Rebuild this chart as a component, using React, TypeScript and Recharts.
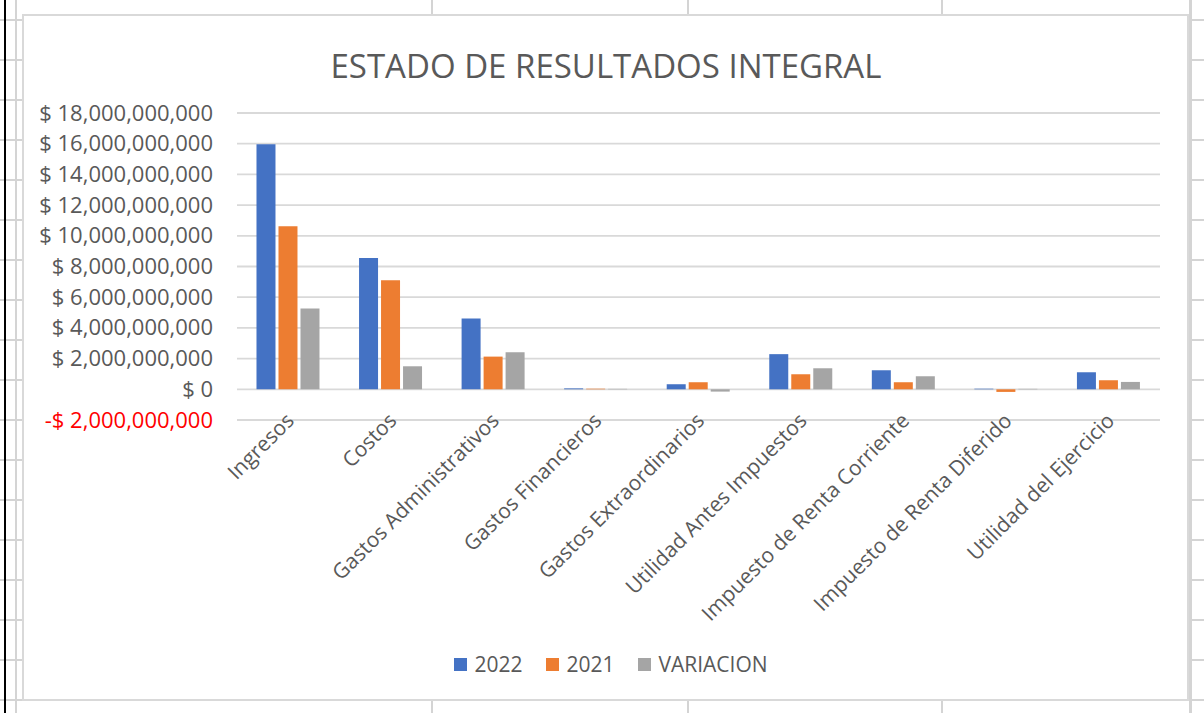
import React from "react";
import { BarChart, Bar, XAxis, YAxis, CartesianGrid, Legend } from "recharts";

const categories = [
  "Ingresos",
  "Costos",
  "Gastos Administrativos",
  "Gastos Financieros",
  "Gastos Extraordinarios",
  "Utilidad Antes Impuestos",
  "Impuesto de Renta Corriente",
  "Impuesto de Renta Diferido",
  "Utilidad del Ejercicio",
];
const values2022 = [15.97e9, 8.56e9, 4.61e9, 0.06e9, 0.33e9, 2.29e9, 1.24e9, 0.04e9, 1.11e9];
const values2021 = [10.63e9, 7.1e9, 2.13e9, 0.04e9, 0.46e9, 0.98e9, 0.46e9, -0.17e9, 0.59e9];
const valuesVariacion = [5.27e9, 1.5e9, 2.42e9, 0.03e9, -0.15e9, 1.37e9, 0.85e9, 0.03e9, 0.48e9];
const yTicks = [-2e9, 0, 2e9, 4e9, 6e9, 8e9, 10e9, 12e9, 14e9, 16e9, 18e9];
const seriesNames = ["2022", "2021", "VARIACION"];
const seriesColors = ["#4472C4", "#ED7D31", "#A5A5A5"];
const title = "ESTADO DE RESULTADOS INTEGRAL";

const data = categories.map((name, i) => ({
  name,
  "2022": values2022[i],
  "2021": values2021[i],
  VARIACION: valuesVariacion[i],
}));

const FONT = "'Open Sans', sans-serif";
const TEXT = "#595959";
const GRID = "#D9D9D9";
const SHEET = "#D4D4D4";

function fmt(v: number) {
  const abs = Math.abs(v).toLocaleString("en-US");
  return (v < 0 ? "-$ " : "$ ") + abs;
}

const YTick = (props: any) => {
  const { x, y, payload } = props;
  const v = payload.value as number;
  return (
    <text
      x={x}
      y={y}
      dy={7.5}
      textAnchor="end"
      fontFamily={FONT}
      fontSize={22}
      fill={v < 0 ? "#FF0000" : TEXT}
    >
      {fmt(v)}
    </text>
  );
};

const XTick = (props: any) => {
  const { x, y, payload } = props;
  const tx = x + 7;
  const ty = y + 2;
  return (
    <text
      x={tx}
      y={ty}
      textAnchor="end"
      fontFamily={FONT}
      fontSize={21}
      fill={TEXT}
      transform={`rotate(-45 ${tx} ${ty})`}
    >
      {payload.value}
    </text>
  );
};

const LegendContent = () => (
  <div
    style={{
      display: "flex",
      justifyContent: "center",
      alignItems: "center",
      paddingLeft: 18,
      fontFamily: FONT,
      fontSize: 21,
      color: TEXT,
    }}
  >
    {seriesNames.map((n, i) => (
      <div key={n} style={{ display: "flex", alignItems: "center", marginRight: i < 2 ? 24 : 0 }}>
        <div style={{ width: 13, height: 13, background: seriesColors[i], marginRight: 7 }} />
        <span>{n}</span>
      </div>
    ))}
  </div>
);

export default function App() {
  const rows = Array.from({ length: 18 }, (_, k) => 20 + 40 * k);
  const cols = [16, 432, 688, 942];
  return (
    <div
      style={{
        position: "absolute",
        left: 0,
        top: 0,
        width: 1204,
        height: 713,
        background: "#fff",
        overflow: "hidden",
      }}
    >
      {rows.map((r) => (
        <div key={"r" + r} style={{ position: "absolute", left: 0, top: r - 1, width: 1204, height: 2, background: SHEET }} />
      ))}
      {cols.map((c) => (
        <div key={"c" + c} style={{ position: "absolute", left: c - 1, top: 0, width: 2, height: 713, background: SHEET }} />
      ))}
      <div style={{ position: "absolute", left: 1189, top: 0, width: 3, height: 713, background: SHEET }} />
      <div style={{ position: "absolute", left: 4, top: 0, width: 2, height: 713, background: "#000" }} />
      <div
        style={{
          position: "absolute",
          left: 22,
          top: 14,
          width: 1167,
          height: 687,
          boxSizing: "border-box",
          border: `2px solid ${GRID}`,
          background: "#fff",
        }}
      />
      <svg style={{ position: "absolute", left: 0, top: 0 }} width={1204} height={713}>
        <text x={606} y={78} textAnchor="middle" fontFamily={FONT} fontSize={33} fill={TEXT}>
          {title}
        </text>
      </svg>
      <div style={{ position: "absolute", left: 0, top: 0 }}>
        <BarChart
          width={1204}
          height={713}
          data={data}
          margin={{ top: 113, right: 44, left: 0, bottom: 0 }}
          barCategoryGap="19%"
          barGap={3}
        >
          <CartesianGrid vertical={false} stroke={GRID} strokeWidth={1.8} />
          <XAxis
            dataKey="name"
            height={293}
            interval={0}
            axisLine={false}
            tickLine={false}
            tickSize={0}
            tickMargin={0}
            tick={<XTick />}
          />
          <YAxis
            width={237}
            domain={[-2e9, 18e9]}
            ticks={yTicks}
            axisLine={false}
            tickLine={false}
            tickSize={0}
            tickMargin={24}
            tick={<YTick />}
          />
          <Legend
            verticalAlign="middle"
            align="center"
            wrapperStyle={{ top: 650, left: 0, width: 1204 }}
            content={<LegendContent />}
          />
          {seriesNames.map((n, i) => (
            <Bar key={n} dataKey={n} fill={seriesColors[i]} isAnimationActive={false} />
          ))}
        </BarChart>
      </div>
    </div>
  );
}
